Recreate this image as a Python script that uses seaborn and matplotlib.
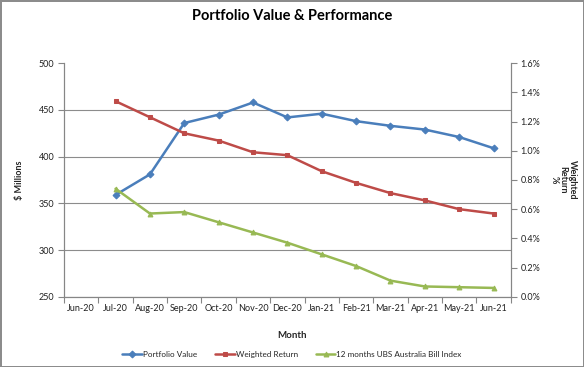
import pandas as pd
import matplotlib.pyplot as plt
import seaborn as sns
from matplotlib.ticker import PercentFormatter, FixedLocator

sns.set_theme(style='white')
plt.rcParams['font.family'] = ['Lato', 'DejaVu Sans']

months = ['Jun-20', 'Jul-20', 'Aug-20', 'Sep-20', 'Oct-20', 'Nov-20', 'Dec-20',
          'Jan-21', 'Feb-21', 'Mar-21', 'Apr-21', 'May-21', 'Jun-21']
portfolio_value = [None, 359, 381, 436, 445, 458, 442, 446, 438, 433, 429, 421, 409]
weighted_return = [None, 1.34, 1.23, 1.12, 1.07, 0.99, 0.97, 0.86, 0.78, 0.71, 0.66, 0.60, 0.57]
ubs_bill_index = [None, 0.74, 0.57, 0.58, 0.51, 0.44, 0.37, 0.29, 0.21, 0.11, 0.07, 0.065, 0.06]

blue = '#4A7EBB'
red = '#BE4B48'
green = '#98B954'
grey = '#868686'

df = pd.DataFrame({'month': months, 'pos': range(len(months)),
                   'value': portfolio_value, 'ret': weighted_return,
                   'ubs': ubs_bill_index}).dropna()

fig = plt.figure(figsize=(5.84, 3.67), dpi=100, edgecolor='#8c8c8c', linewidth=2)
ax = fig.add_axes([0.1096, 0.1916, 0.765, 0.636])
ax2 = ax.twinx()

sns.lineplot(data=df, x='pos', y='value', ax=ax, color=blue, marker='D',
             markersize=4.5, markeredgecolor=blue, linewidth=1.8, label='Portfolio Value')
sns.lineplot(data=df, x='pos', y='ret', ax=ax2, color=red, marker='s',
             markersize=5, markeredgecolor=red, linewidth=1.8, label='Weighted Return')
sns.lineplot(data=df, x='pos', y='ubs', ax=ax2, color=green, marker='^',
             markersize=5.5, markeredgecolor=green, linewidth=1.8,
             label='12 months UBS Australia Bill Index')

ax.set_xlim(-0.5, len(months) - 0.5)
ax.set_ylim(250, 500)
ax.set_yticks(range(250, 501, 50))
ax2.set_ylim(0, 1.6)
ax2.set_yticks([i * 0.2 for i in range(9)])
ax2.yaxis.set_major_formatter(PercentFormatter(decimals=1))

ax.xaxis.set_major_locator(FixedLocator([i - 0.5 for i in range(len(months) + 1)]))
ax.xaxis.set_minor_locator(FixedLocator(list(range(len(months)))))
ax.set_xticklabels([], minor=False)
ax.set_xticklabels(months, minor=True)
ax.tick_params(axis='x', which='major', length=4, width=0.8, color=grey, direction='out', bottom=True)
ax.tick_params(axis='x', which='minor', length=0, labelsize=6.5, pad=5, labelcolor='#222222')
ax.tick_params(axis='y', length=4, width=0.8, color=grey, direction='out', left=True,
               labelsize=6.5, labelcolor='#222222', pad=3)
ax2.tick_params(axis='y', length=4, width=0.8, color=grey, direction='out', right=True,
                labelsize=6.5, labelcolor='#222222', pad=3)

ax.grid(axis='y', color='#8c8c8c', linewidth=0.8)
ax.yaxis.get_gridlines()[-1].set_visible(False)
ax.set_axisbelow(True)

for a in (ax, ax2):
    a.spines['top'].set_visible(False)
    for s in ('left', 'right', 'bottom'):
        a.spines[s].set_color(grey)
        a.spines[s].set_linewidth(0.8)

ax.set_xlabel('')
ax.set_ylabel('')
ax2.set_ylabel('')

fig.text(0.5, 0.956, 'Portfolio Value & Performance', ha='center', va='center',
         fontsize=10.5, fontweight='bold', color='black')
fig.text(0.034, 0.51, '$ Millions', rotation=90, ha='center', va='center',
         fontsize=6.5, fontweight='bold')
fig.text(0.964, 0.51, 'Weighted\nReturn\n%', rotation=270, ha='center', va='center',
         fontsize=6.5, fontweight='bold', multialignment='center', linespacing=1.0)
fig.text(0.5, 0.085, 'Month', ha='center', va='center', fontsize=7, fontweight='bold')

h1, l1 = ax.get_legend_handles_labels()
h2, l2 = ax2.get_legend_handles_labels()
ax.get_legend().remove()
ax2.get_legend().remove()
for h in h1 + h2:
    h.set_markersize(3.5)
fig.legend(h1 + h2, l1 + l2, loc='center', bbox_to_anchor=(0.5, 0.035), ncol=3,
           frameon=False, fontsize=5.9, handlelength=2.4, columnspacing=2.2,
           handletextpad=0.1)

fig.savefig('out.png', dpi=100, edgecolor=fig.get_edgecolor())
